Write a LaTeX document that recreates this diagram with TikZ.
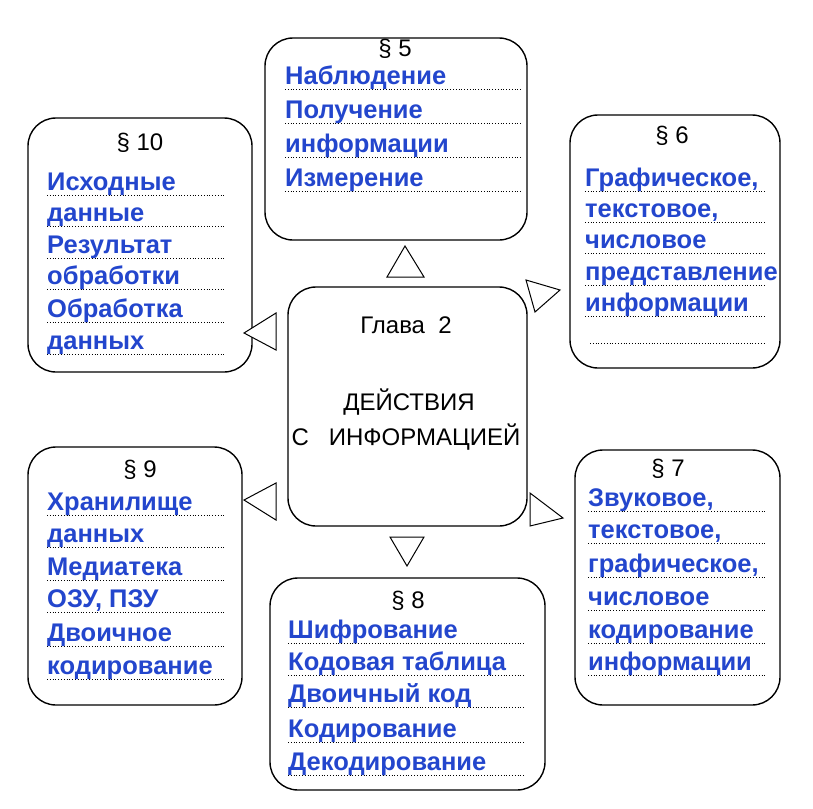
\documentclass[tikz,border=0pt]{standalone}
\usepackage{fontspec}
\setmainfont{Liberation Sans}
\definecolor{ink}{RGB}{35,70,205}
\begin{document}
\begin{tikzpicture}[x=1pt,y=-1pt,
  box/.style={draw,line width=1.4pt,rounded corners=28pt},
  head/.style={font=\fontsize{24}{25}\selectfont,anchor=center},
  item/.style={font=\bfseries\fontsize{25.5}{27}\selectfont,text=ink,anchor=base west,inner sep=0pt},
  dots/.style={line width=0.8pt,dotted},
  tri/.style={draw,line width=1pt,fill=white}]
\useasboundingbox (0,0) rectangle (813,808);
\fill[white] (0,0) rectangle (813,808);
\newcommand{\li}[5]{% name x y text rightx
  \node[item] (#1) at (#2,#3) {#4};
  \draw[dots] (#2,#3+5) -- (#5,#3+5);}
% boxes
\draw[box] (265,38) rectangle (527,240);
\draw[box] (28,118) rectangle (252,372);
\draw[box] (570,115) rectangle (780,368);
\draw[box] (28,447) rectangle (242,705);
\draw[box] (270,578) rectangle (545,790);
\draw[box] (575,450) rectangle (780,705);
\draw[box] (288,287) rectangle (527,526);
% center
\node[head] (g) at (406,325) {Глава\ \ 2};
\node[head] (d) at (409,402) {ДЕЙСТВИЯ};
\node[head] (c) at (406,437) {С\ \ \ ИНФОРМАЦИЕЙ};
% §5
\node[head] (h5) at (395,49) {§ 5};
\li{a1}{285}{84}{Наблюдение}{522}
\li{a2}{285}{118}{Получение}{522}
\li{a3}{285}{152}{информации}{522}
\li{a4}{285}{186}{Измерение}{522}
% §10
\node[head] (h10) at (140,143) {§ 10};
\li{b1}{47}{190}{Исходные}{225}
\li{b2}{47}{221}{данные}{225}
\li{b3}{47}{253}{Результат}{225}
\li{b4}{47}{284}{обработки}{225}
\li{b5}{47}{317}{Обработка}{225}
\li{b6}{47}{349}{данных}{225}
% §6
\node[head] (h6) at (672,136) {§ 6};
\li{c1}{585}{186}{Графическое,}{765}
\li{c2}{585}{217}{текстовое,}{765}
\li{c3}{585}{248}{числовое}{765}
\li{c4}{585}{280}{представление}{765}
\li{c5}{585}{311}{информации}{765}
\draw[dots] (590,343) -- (765,343);
% §9
\node[head] (h9) at (140,470) {§ 9};
\li{d1}{47}{510}{Хранилище}{225}
\li{d2}{47}{542}{данных}{225}
\li{d3}{47}{575}{Медиатека}{225}
\li{d4}{47}{607}{ОЗУ, ПЗУ}{225}
\li{d5}{47}{641}{Двоичное}{225}
\li{d6}{47}{674}{кодирование}{225}
% §8
\node[head] (h8) at (408,601) {§ 8};
\li{e1}{288}{638}{Шифрование}{525}
\li{e2}{288}{670}{Кодовая таблица}{525}
\li{e3}{288}{702}{Двоичный код}{525}
\li{e4}{288}{737}{Кодирование}{525}
\li{e5}{288}{770}{Декодирование}{525}
% §7
\node[head] (h7) at (668,469) {§ 7};
\li{f1}{588}{506}{Звуковое,}{765}
\li{f2}{588}{538}{текстовое,}{765}
\li{f3}{588}{572}{графическое,}{765}
\li{f4}{588}{605}{числовое}{765}
\li{f5}{588}{638}{кодирование}{765}
\li{f6}{588}{670}{информации}{765}
% triangles
\draw[tri] (387,277) -- (424,277) -- (405,246) -- cycle;
\draw[tri] (390,537) -- (424,537) -- (407,566) -- cycle;
\draw[tri] (276,313) -- (276,350) -- (244,333) -- cycle;
\draw[tri] (276,483) -- (276,520) -- (244,500) -- cycle;
\draw[tri] (526,280) -- (560,290) -- (535,312) -- cycle;
\draw[tri] (530,493) -- (563,518) -- (530,526) -- cycle;
\end{tikzpicture}
\end{document}
